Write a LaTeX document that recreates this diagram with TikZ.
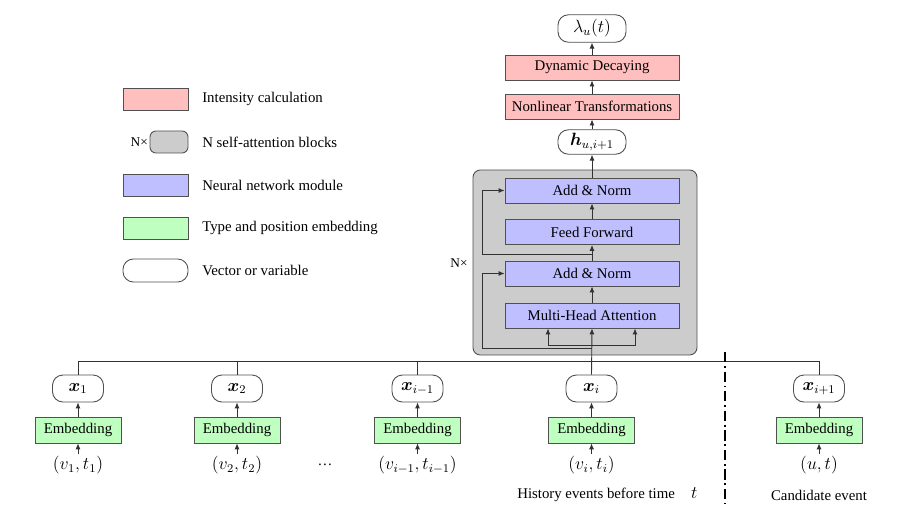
\documentclass[tikz,border=0pt]{standalone}
\usepackage{fontspec}
\setmainfont{Liberation Serif}
\usepackage{bm}
\usetikzlibrary{arrows.meta,calc}
\definecolor{redf}{RGB}{255,191,191}
\definecolor{bluef}{RGB}{191,191,255}
\definecolor{greenf}{RGB}{191,255,191}
\definecolor{grayf}{RGB}{204,204,204}
\definecolor{bord}{RGB}{80,80,80}
\definecolor{linec}{RGB}{50,50,50}
\begin{document}
\begin{tikzpicture}[x=0.675pt,y=-0.675pt,font=\fontsize{10}{12}\selectfont,
  box/.style={draw=bord,line width=0.6pt,inner sep=0pt,minimum width=117.45pt,minimum height=16.9pt},
  redbox/.style={box,fill=redf},
  bluebox/.style={box,fill=bluef},
  embbox/.style={draw=bord,line width=0.6pt,fill=greenf,inner sep=0pt,minimum width=58pt,minimum height=17.5pt},
  varbox/.style={draw=bord,line width=0.6pt,fill=white,rounded corners=7pt,inner sep=0pt,minimum width=34.4pt,minimum height=18.2pt,font=\fontsize{12}{14}\selectfont},
  blockbox/.style={draw=bord,line width=0.6pt,fill=grayf,rounded corners=5pt,inner sep=0pt},
  arr/.style={-{Latex[length=4pt,width=3.4pt]},line width=0.6pt,draw=linec},
  ln/.style={line width=0.6pt,draw=linec},
  lbl/.style={inner sep=1pt,font=\fontsize{12}{14}\selectfont},
  legtxt/.style={anchor=west,inner sep=0pt}]
\useasboundingbox (0,0) rectangle (908,521);

% legend
\node[redbox,minimum width=43.9pt,minimum height=14.85pt] (lr) at (155.5,99) {};
\node[legtxt] (lrt) at (202,99) {Intensity calculation};
\node[blockbox,minimum width=25.65pt,minimum height=14.85pt,rounded corners=4pt] (lg) at (169,142) {};
\node[anchor=east,inner sep=1pt,font=\fontsize{9}{10}\selectfont] (lgn) at (lg.west) {N×};
\node[legtxt] (lgt) at (202,142) {N self-attention blocks};
\node[bluebox,minimum width=43.9pt,minimum height=14.85pt] (lb) at (155.5,185) {};
\node[legtxt] (lbt) at (202,185) {Neural network module};
\node[embbox,minimum width=43.9pt,minimum height=14.85pt] (le) at (155.5,228) {};
\node[legtxt] (let) at (202,228) {Type and position embedding};
\node[varbox,minimum width=43.9pt,minimum height=15.5pt] (lv) at (155.5,270.5) {};
\node[legtxt] (lvt) at (202,270.5) {Vector or variable};

% self-attention block
\node[blockbox,minimum width=151.2pt,minimum height=124.9pt] (blk) at (585,262.5) {};
\node[font=\fontsize{9}{10}\selectfont,inner sep=0pt] (nx) at (459,263) {N×};
\node[bluebox] (an2) at (592,190.5) {Add \& Norm};
\node[bluebox] (ff) at (592,232) {Feed Forward};
\node[bluebox] (an1) at (592,273.5) {Add \& Norm};
\node[bluebox] (mha) at (592,315.5) {Multi-Head Attention};

% top
\node[varbox,minimum width=45.9pt,minimum height=18.5pt] (lam) at (592,28.5) {$\lambda_u(t)$};
\node[redbox] (dd) at (592,67.5) {Dynamic Decaying};
\node[redbox] (nt) at (592,106.5) {Nonlinear Transformations};
\node[varbox,minimum width=45.9pt,minimum height=16.5pt] (h) at (592,142) {$\bm{h}_{u,i+1}$};

% bottom events
\foreach \n/\xx/\lab/\inp in {x1/78/{\bm{x}_1}/{(v_1,t_1)},
  x2/237/{\bm{x}_2}/{(v_2,t_2)},
  xim/417.5/{\bm{x}_{i-1}}/{(v_{i-1},t_{i-1})},
  xi/591.5/{\bm{x}_i}/{(v_i,t_i)},
  xip/819/{\bm{x}_{i+1}}/{(u,t)}}{
  \node[varbox] (\n) at (\xx,388.5) {$\lab$};
  \node[embbox] (e\n) at (\xx,430) {Embedding};
  \node[lbl] (in\n) at (\xx,465) {$\inp$};
  \draw[arr] (e\n.north) -- (\n.south);
  \draw[arr] (in\n.north) -- (e\n.south);
}
\node (dots) at (325,465) {\dots};

% bus
\coordinate (busl) at (78,361);
\coordinate (busr) at (819,361);
\draw[ln] (x1.north) -- (x1.north |- busl) -- (busr) -- (xip.north);
\draw[ln] (x2.north) -- (x2.north |- busl);
\draw[ln] (xim.north) -- (xim.north |- busl);

% into block
\draw[arr] (xi.north) -- (mha.south);
\coordinate (sp) at (591.5,345);
\coordinate (spl) at (548,345);
\coordinate (spr) at (635,345);
\draw[arr] (sp) -- (spl) -- (spl |- mha.south);
\draw[arr] (sp) -- (spr) -- (spr |- mha.south);
\coordinate (r1a) at (591.5,348);
\coordinate (r1b) at (482,348);
\draw[arr] (r1a) -- (r1b) |- (an1.west);
\coordinate (r2a) at (591.5,254);
\coordinate (r2b) at (482,254);
\draw[arr] (r2a) -- (r2b) |- (an2.west);
\draw[arr] (mha.north) -- (an1.south);
\draw[arr] (an1.north) -- (ff.south);
\draw[arr] (ff.north) -- (an2.south);
\draw[arr] (an2.north) -- (h.south);
\draw[arr] (h.north) -- (nt.south);
\draw[arr] (nt.north) -- (dd.south);
\draw[arr] (dd.north) -- (lam.south);

% separator
\coordinate (sepa) at (725,352);
\coordinate (sepb) at (725,503);
\draw[line width=1.3pt,draw=black,dash pattern=on 7pt off 2.5pt on 1.2pt off 2.5pt] (sepa) -- (sepb);

\node[anchor=west,inner sep=0pt] (hist) at (517,495) {History events before time\hspace{1.1em}\fontsize{12}{14}\selectfont$t$};
\node[inner sep=0pt] (cand) at (819,495) {Candidate event};
\end{tikzpicture}
\end{document}
